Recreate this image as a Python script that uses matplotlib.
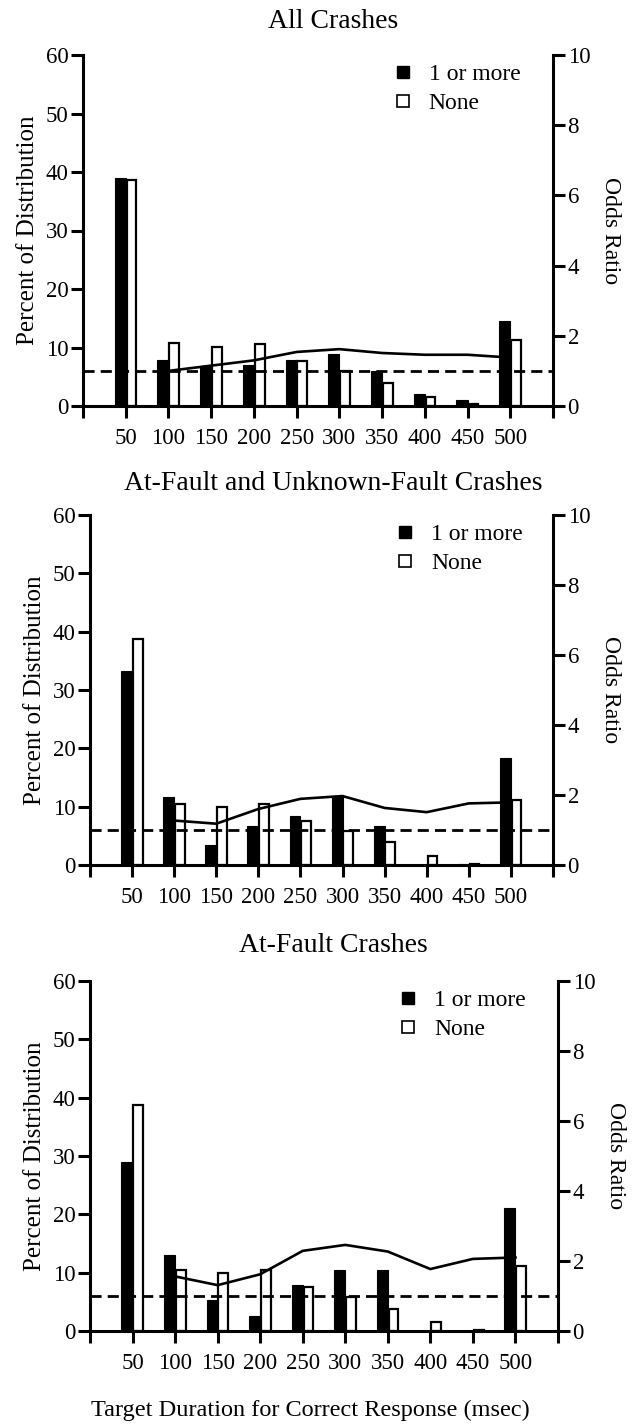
import matplotlib
matplotlib.use("Agg")
import matplotlib.pyplot as plt
from matplotlib.lines import Line2D

plt.rcParams["font.family"] = ["Liberation Serif", "DejaVu Serif"]

# target durations (msec)
durations = [50, 100, 150, 200, 250, 300, 350, 400, 450, 500]
odds_x = durations[1:]

# percent of distribution, drivers with 1 or more crashes vs none
all_one_plus = [38.9, 7.9, 6.9, 7.0, 7.9, 8.9, 6.0, 2.1, 1.1, 14.6]
all_none = [38.7, 10.7, 10.1, 10.6, 7.7, 6.0, 4.0, 1.6, 0.3, 11.3]
all_odds = [1.0, 1.15, 1.3, 1.54, 1.62, 1.51, 1.46, 1.46, 1.38]

auf_one_plus = [33.3, 11.7, 3.4, 6.7, 8.4, 11.8, 6.7, 0.0, 0.1, 18.3]
auf_none = [38.8, 10.5, 10.0, 10.5, 7.6, 5.9, 3.9, 1.6, 0.1, 11.1]
auf_odds = [1.27, 1.18, 1.6, 1.89, 1.97, 1.63, 1.51, 1.76, 1.79]

af_one_plus = [28.9, 13.1, 5.3, 2.6, 7.9, 10.5, 10.5, 0.0, 0.0, 21.1]
af_none = [38.8, 10.4, 10.0, 10.5, 7.5, 5.8, 3.8, 1.6, 0.2, 11.1]
af_odds = [1.56, 1.31, 1.62, 2.29, 2.46, 2.27, 1.77, 2.06, 2.1]

panels = [
    ("All Crashes", all_one_plus, all_none, all_odds),
    ("At-Fault and Unknown-Fault Crashes", auf_one_plus, auf_none, auf_odds),
    ("At-Fault Crashes", af_one_plus, af_none, af_odds),
]

W, H = 634, 1424
# axes boxes in pixels: left, right, top (y=60), bottom (y=0); title centre y
boxes = [
    (83, 553, 55, 406, 21),
    (90, 553, 515, 865, 483),
    (90, 558, 981, 1331, 945),
]

SPINE = 2.2
FS = 16.5

fig = plt.figure(figsize=(W / 100, H / 100), dpi=100)

for (title, one_plus, none, odds), (l, r, t, b, ty) in zip(panels, boxes):
    ax = fig.add_axes([l / W, 1 - b / H, (r - l) / W, (b - t) / H])
    ax2 = ax.twinx()

    ax.bar([d - 13 for d in durations], one_plus, width=13, align="edge",
           color="black", edgecolor="black", linewidth=0.8, zorder=2)
    ax.bar([d + 1 for d in durations], none, width=11.5, align="edge",
           color="white", edgecolor="black", linewidth=1.6, zorder=2)

    ax2.plot(odds_x, odds, color="black", linewidth=1.9, zorder=3)
    ax2.axhline(1.0, color="black", linewidth=2.0, dashes=(4, 2.2), zorder=3)

    ax.set_xlim(0, 550)
    ax.set_ylim(0, 60)
    ax2.set_ylim(0, 10)
    ax.set_yticks(range(0, 61, 10))
    ax2.set_yticks(range(0, 11, 2))
    ax.set_xticks(range(0, 551, 50))
    ax.set_xticklabels([""] + [str(d) for d in durations] + [""])

    for a in (ax, ax2):
        for s in a.spines.values():
            s.set_linewidth(SPINE)
        a.spines["top"].set_visible(False)
        a.tick_params(width=SPINE, length=8.5, labelsize=FS, direction="out")
    ax.spines["right"].set_visible(False)
    ax2.spines["left"].set_visible(False)
    ax2.spines["bottom"].set_visible(False)
    ax.tick_params(axis="x", pad=7)
    ax.tick_params(axis="y", pad=2)
    ax2.tick_params(axis="y", pad=2)

    ax.set_ylabel("Percent of Distribution", fontsize=18, labelpad=5)
    ax2.set_ylabel("Odds Ratio", fontsize=17, rotation=270, labelpad=22)

    handles = [
        Line2D([], [], marker="s", linestyle="none", markersize=9,
               markerfacecolor="black", markeredgecolor="black"),
        Line2D([], [], marker="s", linestyle="none", markersize=9,
               markerfacecolor="white", markeredgecolor="black", markeredgewidth=1.2),
    ]
    ax.legend(handles, ["1 or more", "None"], loc="upper left",
              bbox_to_anchor=(0.66, 0.975), frameon=False, fontsize=17,
              handlelength=0.8, handletextpad=0.7, labelspacing=0.3,
              borderaxespad=0, borderpad=0)

    fig.text(333 / W, 1 - ty / H, title, ha="center", va="center", fontsize=20)

fig.text(310 / W, 1 - 1410 / H, "Target Duration for Correct Response (msec)",
         ha="center", va="center", fontsize=17.5)

fig.savefig("out.png", dpi=100)
